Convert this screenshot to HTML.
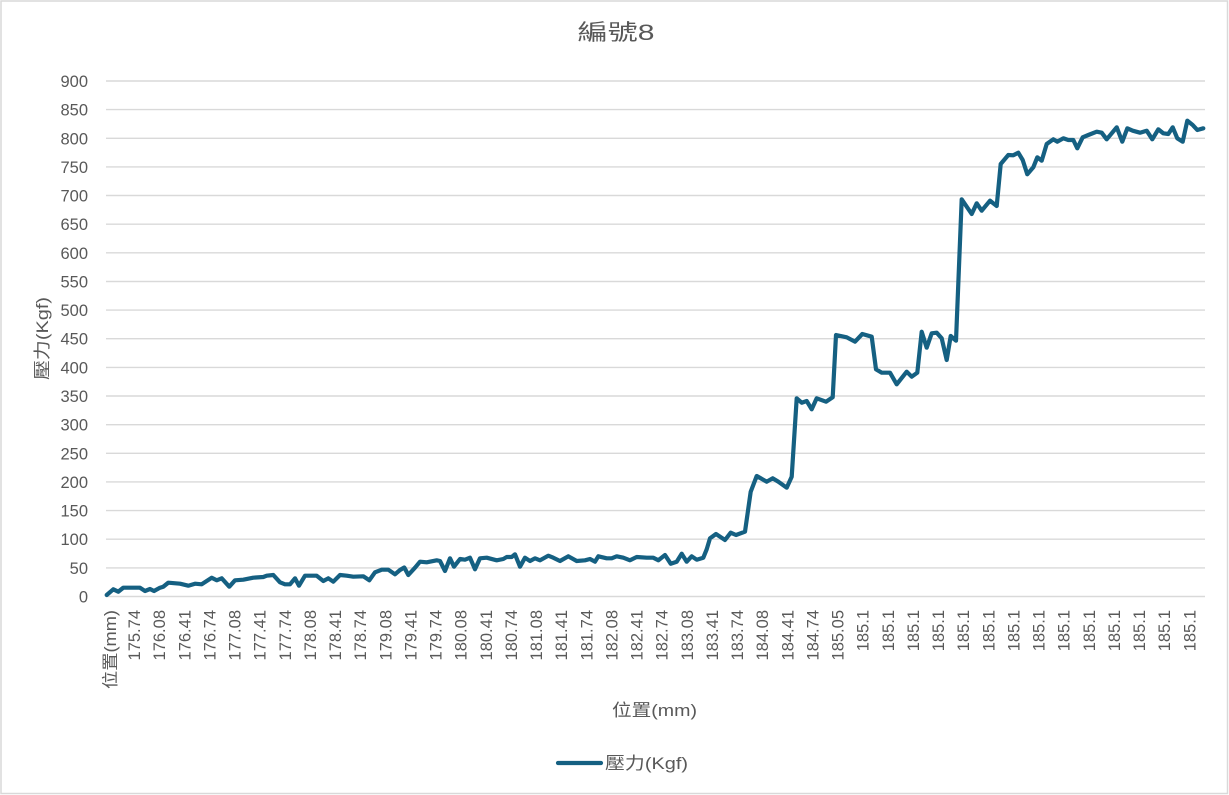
<!DOCTYPE html>
<html>
<head>
<meta charset="utf-8">
<style>
  html,body{margin:0;padding:0;background:#fff;}
  svg{display:block;}
  text{font-family:"Liberation Sans","Noto Sans CJK TC","Noto Sans CJK SC",sans-serif;fill:#595959;}
</style>
</head>
<body>
<svg width="1229" height="795" viewBox="0 0 1229 795" xmlns="http://www.w3.org/2000/svg">
  <rect x="0" y="0" width="1229" height="795" fill="#fff"/>
  <rect x="1" y="1" width="1226.5" height="792.5" fill="none" stroke="#d9d9d9" stroke-width="1.5"/>

  <!-- title -->
  <text x="616" y="40" font-size="22" text-anchor="middle" textLength="77" lengthAdjust="spacingAndGlyphs">編號8</text>

  <!-- gridlines -->
  <g stroke="#d9d9d9" stroke-width="1.4">
    <line x1="106" x2="1205" y1="596.5" y2="596.5"/>
    <line x1="106" x2="1205" y1="567.9" y2="567.9"/>
    <line x1="106" x2="1205" y1="539.2" y2="539.2"/>
    <line x1="106" x2="1205" y1="510.6" y2="510.6"/>
    <line x1="106" x2="1205" y1="481.9" y2="481.9"/>
    <line x1="106" x2="1205" y1="453.3" y2="453.3"/>
    <line x1="106" x2="1205" y1="424.7" y2="424.7"/>
    <line x1="106" x2="1205" y1="396.0" y2="396.0"/>
    <line x1="106" x2="1205" y1="367.4" y2="367.4"/>
    <line x1="106" x2="1205" y1="338.7" y2="338.7"/>
    <line x1="106" x2="1205" y1="310.1" y2="310.1"/>
    <line x1="106" x2="1205" y1="281.5" y2="281.5"/>
    <line x1="106" x2="1205" y1="252.8" y2="252.8"/>
    <line x1="106" x2="1205" y1="224.2" y2="224.2"/>
    <line x1="106" x2="1205" y1="195.5" y2="195.5"/>
    <line x1="106" x2="1205" y1="166.9" y2="166.9"/>
    <line x1="106" x2="1205" y1="138.3" y2="138.3"/>
    <line x1="106" x2="1205" y1="109.6" y2="109.6"/>
    <line x1="106" x2="1205" y1="81.0" y2="81.0"/>
  </g>

  <!-- y tick labels -->
  <g font-size="16.5" text-anchor="end">
    <text x="88" y="602.5">0</text>
    <text x="88" y="573.9">50</text>
    <text x="88" y="545.2">100</text>
    <text x="88" y="516.6">150</text>
    <text x="88" y="487.9">200</text>
    <text x="88" y="459.3">250</text>
    <text x="88" y="430.7">300</text>
    <text x="88" y="402.0">350</text>
    <text x="88" y="373.4">400</text>
    <text x="88" y="344.7">450</text>
    <text x="88" y="316.1">500</text>
    <text x="88" y="287.5">550</text>
    <text x="88" y="258.8">600</text>
    <text x="88" y="230.2">650</text>
    <text x="88" y="201.5">700</text>
    <text x="88" y="172.9">750</text>
    <text x="88" y="144.3">800</text>
    <text x="88" y="115.6">850</text>
    <text x="88" y="87.0">900</text>
  </g>

  <!-- x tick labels -->
  <g font-size="16.5" text-anchor="end">
    <text transform="translate(116,610) rotate(-90)" textLength="79" lengthAdjust="spacingAndGlyphs">位置(mm)</text>
    <text transform="translate(140.0,610) rotate(-90)">175.74</text>
    <text transform="translate(165.2,610) rotate(-90)">176.08</text>
    <text transform="translate(190.3,610) rotate(-90)">176.41</text>
    <text transform="translate(215.4,610) rotate(-90)">176.74</text>
    <text transform="translate(240.5,610) rotate(-90)">177.08</text>
    <text transform="translate(265.7,610) rotate(-90)">177.41</text>
    <text transform="translate(290.8,610) rotate(-90)">177.74</text>
    <text transform="translate(315.9,610) rotate(-90)">178.08</text>
    <text transform="translate(341.0,610) rotate(-90)">178.41</text>
    <text transform="translate(366.2,610) rotate(-90)">178.74</text>
    <text transform="translate(391.3,610) rotate(-90)">179.08</text>
    <text transform="translate(416.4,610) rotate(-90)">179.41</text>
    <text transform="translate(441.6,610) rotate(-90)">179.74</text>
    <text transform="translate(466.7,610) rotate(-90)">180.08</text>
    <text transform="translate(491.8,610) rotate(-90)">180.41</text>
    <text transform="translate(516.9,610) rotate(-90)">180.74</text>
    <text transform="translate(542.1,610) rotate(-90)">181.08</text>
    <text transform="translate(567.2,610) rotate(-90)">181.41</text>
    <text transform="translate(592.3,610) rotate(-90)">181.74</text>
    <text transform="translate(617.4,610) rotate(-90)">182.08</text>
    <text transform="translate(642.6,610) rotate(-90)">182.41</text>
    <text transform="translate(667.7,610) rotate(-90)">182.74</text>
    <text transform="translate(692.8,610) rotate(-90)">183.08</text>
    <text transform="translate(717.9,610) rotate(-90)">183.41</text>
    <text transform="translate(743.1,610) rotate(-90)">183.74</text>
    <text transform="translate(768.2,610) rotate(-90)">184.08</text>
    <text transform="translate(793.3,610) rotate(-90)">184.41</text>
    <text transform="translate(818.5,610) rotate(-90)">184.74</text>
    <text transform="translate(843.6,610) rotate(-90)">185.05</text>
    <text transform="translate(868.7,610) rotate(-90)">185.1</text>
    <text transform="translate(893.8,610) rotate(-90)">185.1</text>
    <text transform="translate(919.0,610) rotate(-90)">185.1</text>
    <text transform="translate(944.1,610) rotate(-90)">185.1</text>
    <text transform="translate(969.2,610) rotate(-90)">185.1</text>
    <text transform="translate(994.3,610) rotate(-90)">185.1</text>
    <text transform="translate(1019.5,610) rotate(-90)">185.1</text>
    <text transform="translate(1044.6,610) rotate(-90)">185.1</text>
    <text transform="translate(1069.7,610) rotate(-90)">185.1</text>
    <text transform="translate(1094.8,610) rotate(-90)">185.1</text>
    <text transform="translate(1120.0,610) rotate(-90)">185.1</text>
    <text transform="translate(1145.1,610) rotate(-90)">185.1</text>
    <text transform="translate(1170.2,610) rotate(-90)">185.1</text>
    <text transform="translate(1195.4,610) rotate(-90)">185.1</text>
  </g>

  <!-- axis titles -->
  <text x="612" y="716" font-size="17" textLength="85" lengthAdjust="spacingAndGlyphs">位置(mm)</text>
  <text transform="translate(48,338.5) rotate(-90)" font-size="17" text-anchor="middle" textLength="83" lengthAdjust="spacingAndGlyphs">壓力(Kgf)</text>

  <!-- data series -->
  <polyline fill="none" stroke="#156082" stroke-width="4.2" stroke-linejoin="round" stroke-linecap="round"
    points="106.7,595 113.3,589.3 118.3,591.7 123.3,587.7 140,587.7 145,591 150,589 154,591 160,587.7 163.3,586.7 168.3,582.7 180,583.7 188.3,585.7 195,583.7 201.7,584.3 211.7,577.7 216.7,580.3 221.7,578.3 229.3,586.7 235,580.3 243.3,579.7 253.3,577.7 263.3,577 266.7,575.7 273.3,575 280,582.3 285,584.3 290,584.3 295,578.3 299,585.7 305,575.7 316.7,575.7 323.3,581 328.3,578.3 333.3,581.7 340,575 346.7,575.7 353.3,576.7 363.3,576.3 369.3,580.3 375,572.3 381.7,569.7 388.3,569.7 395,574.3 400,570 404.3,567.5 408.3,575 415,567.7 420,561.7 426.7,562.3 436.7,560.3 440,561 445,571 450,558.3 454,566.7 460,559 465,559.7 470,557.7 475,569.3 480,558.3 486.7,557.7 496.7,560.3 503.3,559 506.7,557 511.7,557 515,554.3 520,566.7 525,557.7 530,561 535,558.3 540,560.3 548.3,555.7 553.3,557.7 560,561 568.3,556.3 576.7,561 585,560.3 590,559 595,561.7 598.3,556.3 606.7,558.3 611.7,558.3 616.7,556.3 623.3,557.7 630,560.3 636.7,557 646.7,557.7 653.3,557.7 658.3,560.3 665,555 670.7,563.7 676.7,561.7 681.7,553.7 686.7,561.7 691.7,556.3 696.7,559.7 703.3,557.7 706.7,549.3 710,538.3 716,534 725,540 730.7,532.7 736,535 745,531.7 750.7,491.7 756.7,476 766.7,481.7 772.7,478.3 778.3,481.7 786.7,487.7 791.7,476.7 796.7,398.3 801.7,402.7 806.7,401 811.7,409.3 816.7,398.3 826,401.7 832.7,397.3 836,335 846.7,337.3 855,341.7 862.3,334 871.7,336.7 876,369.3 881.7,372.7 890,372.7 896.7,384.3 906.7,371.7 911.7,376.7 917.3,372.7 921.7,331.7 926.7,347.7 931.7,333.3 936.7,332.7 941.7,338.3 946.7,360 950.7,336 956,340.7 961.7,199.3 971.7,214 976.7,203.3 981.7,210.7 990,200.7 996.7,206 1000.7,164 1008.3,155 1013.3,155.3 1018.3,152.7 1022.7,160 1027.3,174.3 1033.3,167.3 1037.3,157.3 1041.7,160.7 1046.7,144 1053.3,139.3 1057.3,141.7 1063.3,138.3 1068.3,140 1073.3,140 1077.3,148.3 1082.7,137.3 1088.3,135 1096.7,131.7 1101.7,132.7 1106.7,139.3 1111.7,133.3 1116.7,127.3 1122.3,141.7 1127.3,128.3 1132.7,130.7 1140,132.7 1146.7,130.7 1152.3,139.3 1158.3,129.3 1163.3,133.3 1168.3,134 1172.7,127.3 1177.3,138.3 1182.7,141.7 1187.3,120.7 1192.7,125 1197.3,130 1203.3,128.3"/>

  <!-- legend -->
  <line x1="558" y1="763" x2="601" y2="763" stroke="#156082" stroke-width="4.2" stroke-linecap="round"/>
  <text x="605" y="769" font-size="17" textLength="83" lengthAdjust="spacingAndGlyphs">壓力(Kgf)</text>
</svg>
</body>
</html>
